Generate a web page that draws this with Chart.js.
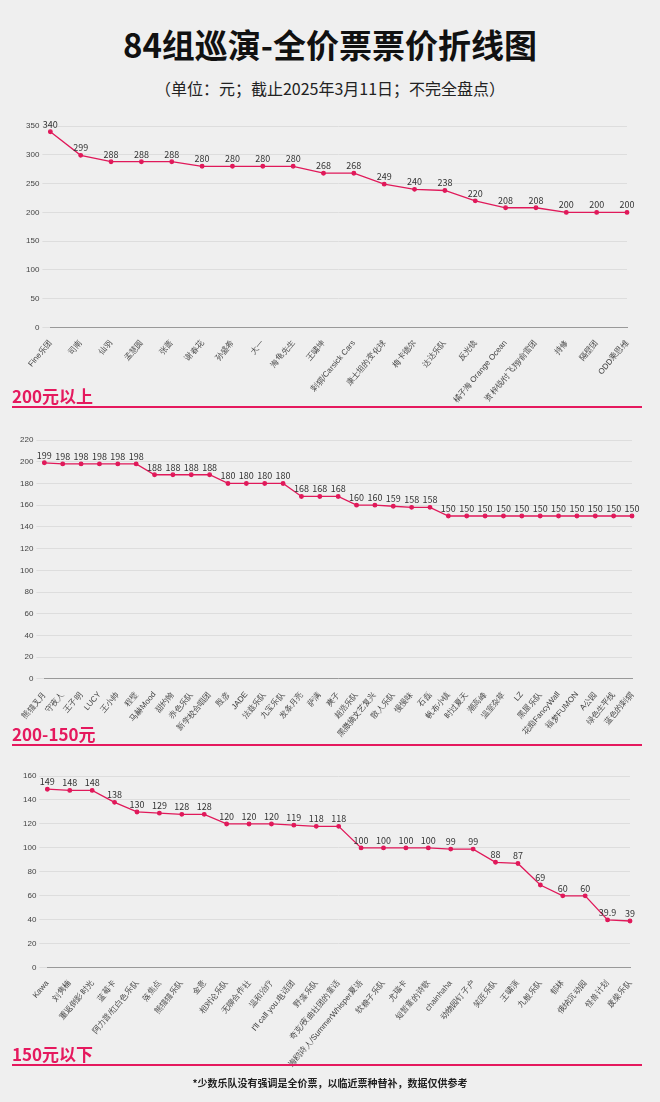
<!DOCTYPE html><html><head><meta charset="utf-8"><script src="https://cdn.jsdelivr.net/npm/chart.js@4"></script>
<style>body{margin:0;background:#efefef;width:660px;height:1102px;position:relative;font-family:"Noto Sans CJK SC",sans-serif;overflow:hidden}
.t{position:absolute;left:0;width:660px;text-align:center}
.sec{position:absolute;left:12px;width:630px;color:#e5195e;font-weight:bold;font-size:17px;border-bottom:2px solid #e5195e;line-height:20px}
canvas{position:absolute;left:0}</style></head><body>
<div class="t" style="top:20px;font-size:33px;font-weight:bold;color:#111">84组巡演-全价票票价折线图</div>
<div class="t" style="top:76px;font-size:16px;color:#222">（单位：元；截止2025年3月11日；不完全盘点）</div>
<div style="position:absolute;top:118px;height:290px;width:660px"><canvas id="c1"></canvas></div>
<div class="sec" style="top:386px">200元以上</div>
<div style="position:absolute;top:432px;height:310px;width:660px"><canvas id="c2"></canvas></div>
<div class="sec" style="top:724px">200-150元</div>
<div style="position:absolute;top:768px;height:304px;width:660px"><canvas id="c3"></canvas></div>
<div class="sec" style="top:1044px">150元以下</div>
<div class="t" style="top:1075px;font-size:10px;font-weight:bold;color:#222">*少数乐队没有强调是全价票，以临近票种替补，数据仅供参考</div>
<script>
const cats1=["Fine乐团","司南","仙羽","孟慧圆","张蔷","谢春花","孙盛希","大一","海龟先生","王啸坤","刺猬/Carsick Cars","康士坦的变化球","梅卡德尔","达达乐队","反光镜","橘子海 Orange Ocean","资梓锐/付飞翔/俞雷团","持修","隔壁团","ODD乘思维"];
const vals1=[340,299,288,288,288,280,280,280,280,268,268,249,240,238,220,208,208,200,200,200];
const cats2=["熊猫叉月","守夜人","王子明","LUCY","王小帅","程璧","马赫Mood","甜约翰","赤色乐队","新学校合唱团","殷彦","JADE","法兹乐队","九宝乐队","发条月亮","萨满","爽子","超浩乐队","黑撒摘文艺复兴","散人乐队","慢慢味","石磊","帆布小镇","时过夏天","潮高峰","温室杂草","LZ","黑屋乐队","花痴FancyWall","福梦FUMON","A公园","绿色生平线","蓝色的刺猬"];
const vals2=[199,198,198,198,198,198,188,188,188,188,180,180,180,180,168,168,168,160,160,159,158,158,150,150,150,150,150,150,150,150,150,150,150];
const cats3=["Kawa","刘隽楠","重返倒影时光","蓝莓卡","阿力普/红白色乐队","落焦点","熊猫猫乐队","金意","相对论乐队","无聊合作社","温和治疗","I'll call you.电话团","野藻乐队","奇克/夜曲社团的童话","海鸥诗人/SummerWhisper夏语","软糖子乐队","尤瑞卡","短暂童的诗歌","chainhaha","动物园钉子户","笑匠乐队","王啸演","九般乐队","郁林","俄纳沉动园","怪兽计划","废柴乐队"];
const vals3=[149,148,148,138,130,129,128,128,120,120,120,119,118,118,100,100,100,100,99,99,88,87,69,60,60,39.9,39];
const lbl={id:'lbl',afterDatasetsDraw(c){const x=c.ctx;x.save();x.font='9px "Noto Sans CJK SC"';x.fillStyle='#333';x.textAlign='center';x.textBaseline='bottom';c.getDatasetMeta(0).data.forEach((p,i)=>x.fillText(c.data.datasets[0].data[i],p.x,p.y-3));x.restore();}};
function mk(id,cats,vals,max,step,pl,pr){new Chart(document.getElementById(id),{type:'line',data:{labels:cats,datasets:[{data:vals,borderColor:'#e0195a',backgroundColor:'#e0195a',borderWidth:1.3,pointRadius:1.8,tension:0}]},
options:{responsive:true,maintainAspectRatio:false,animation:false,layout:{padding:{left:pl,right:pr,top:8}},plugins:{legend:{display:false},tooltip:{enabled:false}},
scales:{x:{grid:{display:false},border:{color:'#999'},ticks:{autoSkip:false,minRotation:50,maxRotation:50,font:{size:8},color:'#444'}},
y:{min:0,max:max,ticks:{stepSize:step,font:{size:8},color:'#444'},grid:{color:'#ddd'},border:{display:false}}}},plugins:[lbl]});}
mk('c1',cats1,vals1,350,50,23,33);mk('c2',cats2,vals2,220,20,17,28);mk('c3',cats3,vals3,160,20,20,30);
</script></body></html>
